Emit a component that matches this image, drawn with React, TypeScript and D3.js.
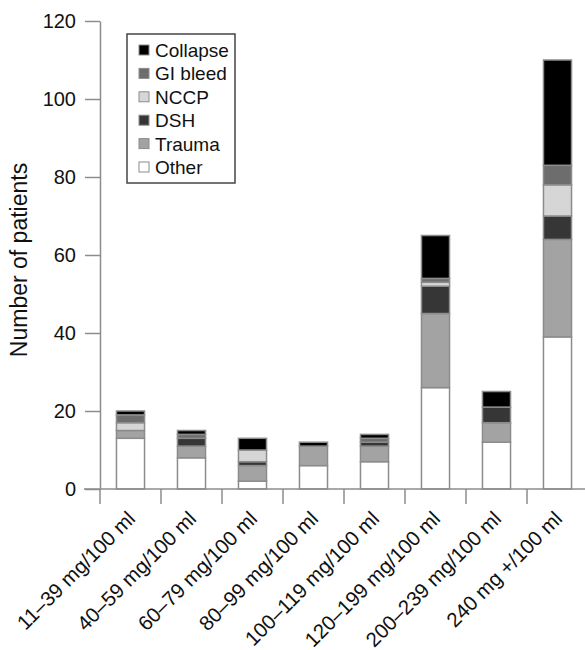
import React, { useEffect, useRef } from 'react'
import * as d3 from 'd3'

// categories on the x axis
const categories = [
  '11–39 mg/100 ml',
  '40–59 mg/100 ml',
  '60–79 mg/100 ml',
  '80–99 mg/100 ml',
  '100–119 mg/100 ml',
  '120–199 mg/100 ml',
  '200–239 mg/100 ml',
  '240 mg +/100 ml',
]

// series values, bottom of the stack first
const other = [13, 8, 2, 6, 7, 26, 12, 39]
const trauma = [2, 3, 4, 5, 4, 19, 5, 25]
const dsh = [0, 2, 1, 0, 1, 7, 4, 6]
const nccp = [2, 0, 3, 0, 0, 1, 0, 8]
const giBleed = [2, 1, 0, 0, 1, 1, 0, 5]
const collapse = [1, 1, 3, 1, 1, 11, 4, 27]

const seriesNames = ['Other', 'Trauma', 'DSH', 'NCCP', 'GI bleed', 'Collapse']
const seriesColors = ['#ffffff', '#a3a3a3', '#363636', '#d6d6d6', '#6d6d6d', '#000000']
const yTicks = [0, 20, 40, 60, 80, 100, 120]

const FONT = '"Liberation Sans", Arial, Helvetica, sans-serif'

export default function App() {
  const ref = useRef<SVGSVGElement | null>(null)

  useEffect(() => {
    const svg = d3.select(ref.current)
    svg.selectAll('*').remove()

    const rows = categories.map((c, i) => ({
      cat: c,
      Other: other[i],
      Trauma: trauma[i],
      DSH: dsh[i],
      NCCP: nccp[i],
      'GI bleed': giBleed[i],
      Collapse: collapse[i],
    }))

    const x = d3
      .scaleBand()
      .domain(categories)
      .range([100, 588])
      .paddingInner(0.54)
      .paddingOuter(0.27)
    const y = d3.scaleLinear().domain([0, 120]).range([489, 21])
    const color = d3.scaleOrdinal<string>().domain(seriesNames).range(seriesColors)
    const axisColor = '#8c8c8c'

    const stacked = d3.stack<any>().keys(seriesNames)(rows)

    // bars
    const layers = svg
      .append('g')
      .selectAll('g')
      .data(stacked)
      .join('g')
      .attr('fill', d => color(d.key))

    layers
      .selectAll('rect')
      .data(d => d.filter(p => p[1] - p[0] > 0))
      .join('rect')
      .attr('x', d => x(d.data.cat)!)
      .attr('width', x.bandwidth())
      .attr('y', d => y(d[1]))
      .attr('height', d => y(d[0]) - y(d[1]))
      .attr('stroke', axisColor)
      .attr('stroke-width', 1.5)

    // y axis
    const yAxis = svg
      .append('g')
      .attr('transform', 'translate(100,0)')
      .call(d3.axisLeft(y).tickValues(yTicks).tickSize(15).tickSizeOuter(0).tickPadding(9))
    yAxis.select('.domain').attr('stroke', axisColor).attr('stroke-width', 1.5)
    yAxis.selectAll('.tick line').attr('stroke', axisColor).attr('stroke-width', 1.5)
    yAxis
      .selectAll('.tick text')
      .attr('fill', '#111')
      .style('font-family', FONT)
      .style('font-size', '20px')

    // x axis line + tick marks between the bars
    const step = x.step()
    const bounds = d3.range(categories.length + 1).map(i => x.range()[0] + i * step)
    svg
      .append('line')
      .attr('x1', 84)
      .attr('x2', 585)
      .attr('y1', y(0))
      .attr('y2', y(0))
      .attr('stroke', axisColor)
      .attr('stroke-width', 1.5)
    svg
      .append('g')
      .selectAll('line')
      .data(bounds)
      .join('line')
      .attr('x1', d => d)
      .attr('x2', d => d)
      .attr('y1', y(0))
      .attr('y2', y(0) + 15)
      .attr('stroke', axisColor)
      .attr('stroke-width', 1.5)

    // rotated category labels (lower ones run off the bottom, as in the original)
    svg
      .append('g')
      .selectAll('text')
      .data(categories)
      .join('text')
      .attr('transform', d => `translate(${x(d)! + x.bandwidth() / 2 + 6},${y(0) + 31}) rotate(-45)`)
      .attr('text-anchor', 'end')
      .attr('fill', '#111')
      .style('font-family', FONT)
      .style('font-size', '20.5px')
      .text(d => d)

    // y axis title
    svg
      .append('text')
      .attr('transform', 'translate(27,260) rotate(-90)')
      .attr('text-anchor', 'middle')
      .attr('fill', '#111')
      .style('font-family', FONT)
      .style('font-size', '23px')
      .text('Number of patients')

    // legend
    const legend = svg.append('g')
    legend
      .append('rect')
      .attr('x', 127)
      .attr('y', 34)
      .attr('width', 108)
      .attr('height', 149)
      .attr('fill', 'white')
      .attr('stroke', '#444')
      .attr('stroke-width', 1.5)
    const legendItems = seriesNames.slice().reverse()
    const item = legend
      .selectAll('g.item')
      .data(legendItems)
      .join('g')
      .attr('class', 'item')
      .attr('transform', (d, i) => `translate(139,${50 + i * 23.4})`)
    item
      .append('rect')
      .attr('x', 0)
      .attr('y', -5)
      .attr('width', 10)
      .attr('height', 10)
      .attr('fill', d => color(d))
      .attr('stroke', axisColor)
      .attr('stroke-width', 1)
    item
      .append('text')
      .attr('x', 16)
      .attr('y', 7)
      .attr('fill', '#111')
      .style('font-family', FONT)
      .style('font-size', '19px')
      .text(d => d)
  }, [])

  return (
    <svg
      ref={ref}
      width={585}
      height={650}
      style={{ position: 'absolute', left: 0, top: 0, background: 'white' }}
    />
  )
}
